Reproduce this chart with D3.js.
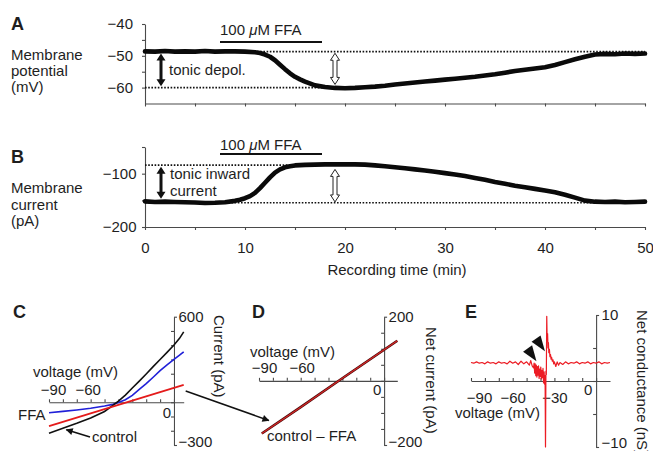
<!DOCTYPE html>
<html>
<head>
<meta charset="utf-8">
<script src="https://cdn.jsdelivr.net/npm/d3@7/dist/d3.min.js"></script>
<style>
html,body{margin:0;padding:0;background:#fff;}
svg{display:block;}
</style>
</head>
<body>
<svg id="fig" width="653" height="451"></svg>
<script>
// ---------------- data ----------------
// Panel A: membrane potential (mV) vs recording time (min)
const timeA = [0,1,2,3,4,5,6,7,8,9,10,11,11.5,12,12.5,13,13.5,14,14.5,15,15.5,16,17,18,19,20,21,22,23,24,25,26,27,28,29,30,31,32,33,34,35,36,37,38,39,40,41,42,43,44,45,46,47,48,49,50];
const potentialA = [-48.6,-48.7,-48.5,-48.7,-48.6,-48.7,-48.5,-48.7,-48.6,-48.6,-48.7,-48.9,
  -49.1,-49.6,-50.3,-51.4,-52.8,-54.2,-55.5,-56.6,-57.4,-58.1,
  -59.3,-59.8,-60.1,-60.2,-60.1,-59.9,-59.7,-59.4,-59.0,-58.7,-58.4,-58.1,-57.8,-57.5,-57.2,-56.9,-56.6,-56.2,-55.8,-55.3,-54.8,-54.4,-54.0,-53.6,-52.9,-52.0,-51.1,-50.3,-49.6,-49.4,-49.5,-49.3,-49.4,-49.3];
// Panel B: membrane current (pA) vs recording time (min)
const timeB = [0,1,2,3,4,5,6,7,8,9,9.5,10,10.5,11,11.5,12,12.5,13,13.5,14,14.5,15,16,17,18,19,20,21,22,23,24,25,26,27,28,29,30,31,32,33,34,35,36,37,38,39,40,41,42,43,44,45,46,47,48,49,50];
const currentB = [-152,-153,-152.5,-153,-153.5,-154,-155,-154.5,-153.5,-151,
  -149,-146,-142,-136,-127,-117,-107,-98,-92,-88,-86,-84.5,
  -83.5,-83,-82.5,-82.5,-82.5,-82.5,-83,-84.5,-86,-88,-90,-92,-94,-96.5,-99,-101.5,-104.5,-108,-111.5,-115.5,-119,-122.5,-125.5,-128.5,-131.5,-135,-139.5,-145,-150.5,-152.5,-153,-152.5,-153.5,-153,-152.5];
const timeTicks = [0,10,20,30,40,50];
const timeMinorTicks = [0,5,10,15,20,25,30,35,40,45,50];
const potentialTicks = [-40,-50,-60];
const potentialMinorTicks = [-40,-45,-50,-55,-60];
const currentTicks = [-100,-200];
const currentMinorTicks = [-50,-100,-150,-200];
// reference levels (dotted) and drug application
const potentialLevels = [-48.7, -60.0];
const potentialLevelEnds = [50, 19];
const currentLevels = [-84, -154.5];
const currentLevelEnds = [19, 50];
const ffaWindow = [7.5, 17.7];
const tonicArrowTime = [1.6, 19.0];
const tonicArrowA = [-49.3, -59.6];
const whiteArrowA = [-49.2, -59.0];
const tonicArrowB = [-87, -147];
const whiteArrowB = [-92, -153];

// Panel C: I-V curves
const voltCtrl = [-90,-80,-70,-60,-50,-44,-40,-35,-30,-25,-20,-15,-10,-5,0,4,7];
const currentCtrl = [-218,-183,-148,-110,-65,-22,8,50,100,148,198,250,300,350,401,448,494];
const voltFFA = [-90,-80,-70,-60,-50,-44,-40,-35,-30,-25,-20,-15,-10,-5,0,4,7];
const currentFFA = [-74,-64,-54,-42,-27,-15,-2,18,48,90,130,175,222,262,300,330,354];
const voltDiffC = [-90, 7];
const currentDiffC = [-167, 121];
const voltTicksC = [-90,-60];
const voltMinorTicks = [-90,-80,-70,-60,-50,-40,-30,-20,-10,0];

// Panel D: net current (control - FFA)
const voltNet = [-88, -60, -30, 9.5];
const currentNet = [-164, -82, 8, 125];

// Panel E: net conductance
const voltG = [-90,-88,-86,-84,-82,-80,-78,-76,-74,-72,-70,-68,-66,-64,-62,-60,-58,-56,-54,-52,-50,-48,-47,-46,
  -45,-44.6,-44.2,-43.8,-43.4,-43,-42.6,-42.2,-41.8,-41.4,-41,-40.6,-40.2,-39.8,-39.4,-39,-38.6,-38.2,-37.8,-37.4,-37,-36.7,-36.4,-36.1,-35.8,
  -35.5,-35.2,-34.9,-34.6,-34.3,-34,-33.6,-33.2,-32.8,-32.4,-32,-31.5,-31,-30.5,-30,-29,-28,-27,-26,-24,-22,-20,
  -18,-16,-14,-12,-10,-8,-6,-4,-2,0,2,4,6,8,10];
const conductG = [2.8,2.7,2.9,2.7,2.8,2.6,2.9,2.7,2.8,2.6,2.9,2.7,2.8,2.6,3.0,2.7,2.9,2.5,3.0,2.6,2.9,2.4,3.1,2.3,
  2.0,2.7,1.2,2.6,0.8,2.4,0.6,2.2,0.9,2.3,0.4,1.8,0.7,2.1,0.3,1.6,0.5,1.9,-0.3,1.4,-0.5,0.8,-10.0,1.5,1.0,
  9.8,6.0,7.2,5.0,5.8,4.3,4.8,3.7,4.0,3.3,3.6,3.0,3.2,2.6,2.9,2.2,2.9,2.4,2.8,2.5,2.9,2.6,
  2.8,2.7,2.9,2.6,2.8,2.7,2.9,2.6,2.8,2.7,2.9,2.6,2.8,2.7,2.8];
const voltTicksE = [-90,-60,-30];
const wedgeVolt = [-42.9, -36.8];
const wedgeCond = [3.0, 4.5];

// ---------------- drawing ----------------
const FONT = "'Liberation Sans', Arial, Helvetica, sans-serif";
const FS = 15;
const INK = "#1e1e1e";
const AX = "#4a4a4a";
const fmt = d3.format("d");
const svg = d3.select("#fig");

function styleAxis(g){
  g.attr("font-family", null).attr("font-size", null);
  g.selectAll("path,line").attr("stroke", AX).attr("stroke-width", 1.1);
  g.selectAll("text").attr("font-family", FONT).attr("font-size", FS).attr("fill", INK);
  return g;
}
function label(x, y, txt, opts = {}){
  const t = svg.append("text").attr("x", x).attr("y", y).text(txt)
    .attr("font-family", FONT).attr("font-size", opts.size || FS).attr("fill", INK)
    .attr("font-weight", opts.bold ? "bold" : null)
    .attr("text-anchor", opts.anchor || "start");
  return t;
}
function vlabel(x, y, txt){
  svg.append("text").attr("transform", `translate(${x},${y}) rotate(90)`).text(txt)
    .attr("font-family", FONT).attr("font-size", FS).attr("fill", INK);
}
function dblArrow(x, ya, yb, shaft, headW, headL){
  const s = shaft/2, h = headW/2;
  return `M${x},${ya} L${x+h},${ya+headL} L${x+s},${ya+headL} L${x+s},${yb-headL} L${x+h},${yb-headL} L${x},${yb} L${x-h},${yb-headL} L${x-s},${yb-headL} L${x-s},${ya+headL} L${x-h},${ya+headL} Z`;
}
svg.append("defs").append("marker").attr("id","ah").attr("viewBox","0 0 10 10")
  .attr("refX",9).attr("refY",5).attr("markerWidth",9).attr("markerHeight",7)
  .attr("markerUnits","userSpaceOnUse").attr("orient","auto")
  .append("path").attr("d","M0,0 L10,5 L0,10 Z").attr("fill","#111");

// ---- panels A & B ----
const xT = d3.scaleLinear().domain([0,50]).range([145,645]);
const yA = d3.scaleLinear().domain([-65,-40]).range([103.5,24]);
const yB = d3.scaleLinear().domain([-200,-50]).range([227,147]);

// axes A
styleAxis(svg.append("g").attr("transform",`translate(0,${yA(-65)})`)
  .call(d3.axisBottom(xT).tickValues(timeMinorTicks).tickSize(3).tickSizeOuter(0).tickFormat("")));
styleAxis(svg.append("g").attr("transform",`translate(${xT(0)},0)`)
  .call(d3.axisLeft(yA).tickValues(potentialMinorTicks).tickSize(3).tickSizeOuter(0).tickPadding(9)
    .tickFormat(d => potentialTicks.includes(d) ? fmt(d) : "")));
// axes B
styleAxis(svg.append("g").attr("transform",`translate(0,${yB(-200)})`)
  .call(d3.axisBottom(xT).tickValues(timeMinorTicks).tickSize(3).tickSizeOuter(0).tickPadding(12)
    .tickFormat(d => timeTicks.includes(d) ? fmt(d) : "")));
styleAxis(svg.append("g").attr("transform",`translate(${xT(0)},0)`)
  .call(d3.axisLeft(yB).tickValues(currentMinorTicks).tickSize(3).tickSizeOuter(0).tickPadding(5.5)
    .tickFormat(d => currentTicks.includes(d) ? fmt(d) : "")));

// dotted reference lines
potentialLevels.forEach((v,i) => svg.append("line").attr("x1",xT(0)).attr("x2",xT(potentialLevelEnds[i]))
  .attr("y1",yA(v)).attr("y2",yA(v)).attr("stroke","#111").attr("stroke-width",1.7).attr("stroke-dasharray","1.6,1.6"));
currentLevels.forEach((v,i) => svg.append("line").attr("x1",xT(0)).attr("x2",xT(currentLevelEnds[i]))
  .attr("y1",yB(v)).attr("y2",yB(v)).attr("stroke","#111").attr("stroke-width",1.7).attr("stroke-dasharray","1.6,1.6"));

// traces
const lineA = d3.line().x((d,i)=>xT(timeA[i])).y(d=>yA(d));
svg.append("path").attr("d", lineA(potentialA)).attr("fill","none").attr("stroke","#0a0a0a")
  .attr("stroke-width",4.6).attr("stroke-linejoin","round").attr("stroke-linecap","round");
const lineB = d3.line().x((d,i)=>xT(timeB[i])).y(d=>yB(d));
svg.append("path").attr("d", lineB(currentB)).attr("fill","none").attr("stroke","#0a0a0a")
  .attr("stroke-width",4.6).attr("stroke-linejoin","round").attr("stroke-linecap","round");

// FFA bars
svg.append("line").attr("x1",xT(ffaWindow[0])).attr("x2",xT(ffaWindow[1])).attr("y1",42).attr("y2",42).attr("stroke","#111").attr("stroke-width",2);
svg.append("line").attr("x1",xT(ffaWindow[0])).attr("x2",xT(ffaWindow[1])).attr("y1",154).attr("y2",154).attr("stroke","#111").attr("stroke-width",2);
function ffaLabel(y){
  const t = label(xT(ffaWindow[0]), y, "100 ");
  t.append("tspan").attr("font-style","italic").text("\u03bc");
  t.append("tspan").text("M FFA");
}
ffaLabel(35); ffaLabel(150);

// arrows
svg.append("path").attr("d", dblArrow(xT(tonicArrowTime[0]), yA(tonicArrowA[0]), yA(tonicArrowA[1]), 3, 9, 7)).attr("fill","#111");
svg.append("path").attr("d", dblArrow(xT(tonicArrowTime[1]), yA(whiteArrowA[0]), yA(whiteArrowA[1]), 4, 9, 7)).attr("fill","#fff").attr("stroke","#222").attr("stroke-width",1);
svg.append("path").attr("d", dblArrow(xT(tonicArrowTime[0]), yB(tonicArrowB[0]), yB(tonicArrowB[1]), 3, 9, 7)).attr("fill","#111");
svg.append("path").attr("d", dblArrow(xT(tonicArrowTime[1]), yB(whiteArrowB[0]), yB(whiteArrowB[1]), 4, 9, 7)).attr("fill","#fff").attr("stroke","#222").attr("stroke-width",1);

// text A/B
label(11, 30, "A", {bold:true, size:18});
label(11, 60, "Membrane"); label(11, 76, "potential"); label(11, 92, "(mV)");
label(169, 75, "tonic depol.");
label(11, 163, "B", {bold:true, size:18});
label(11, 193, "Membrane"); label(11, 210, "current"); label(11, 226, "(pA)");
label(170, 179, "tonic inward"); label(170, 196, "current");
label(397, 275, "Recording time (min)", {anchor:"middle"});

// ---- panel C ----
const xC = d3.scaleLinear().domain([-90,7]).range([49,183.7]);
const yC = d3.scaleLinear().domain([-300,600]).range([445,316.7]);
styleAxis(svg.append("g").attr("transform",`translate(0,${yC(0)})`)
  .call(d3.axisTop(xC).tickValues(voltMinorTicks).tickSize(3).tickSizeOuter(0).tickPadding(4)
    .tickFormat(d => voltTicksC.includes(d) ? fmt(d) : "")))
  .selectAll("text").attr("dx", d => d === -90 ? 4 : -3);
styleAxis(svg.append("g").attr("transform",`translate(${xC(0)},0)`)
  .call(d3.axisLeft(yC).tickValues(d3.range(-200,501,100)).tickSize(3).tickSizeOuter(0).tickFormat("")));
styleAxis(svg.append("g").attr("transform",`translate(${xC(0)},0)`)
  .call(d3.axisRight(yC).tickValues([600,-300]).tickSize(3).tickSizeOuter(0).tickPadding(1.5).tickFormat(fmt)))
  .call(g => g.select(".domain").remove())
  .selectAll("text").attr("dy", d => d < 0 ? "0.12em" : "0.32em");
const lineCc = d3.line().x((d,i)=>xC(voltCtrl[i])).y(d=>yC(d));
const lineCf = d3.line().x((d,i)=>xC(voltFFA[i])).y(d=>yC(d));
const lineCd = d3.line().x((d,i)=>xC(voltDiffC[i])).y(d=>yC(d));
svg.append("path").attr("d", lineCf(currentFFA)).attr("fill","none").attr("stroke","#2020d8").attr("stroke-width",1.6);
svg.append("path").attr("d", lineCc(currentCtrl)).attr("fill","none").attr("stroke","#111").attr("stroke-width",1.6);
svg.append("path").attr("d", lineCd(currentDiffC)).attr("fill","none").attr("stroke","#e41b1b").attr("stroke-width",1.8);
label(13, 318, "C", {bold:true, size:18});
label(33, 377, "voltage (mV)");
label(18, 420, "FFA");
label(92, 442, "control");
label(xC(0)-7, 418, "0", {anchor:"middle"});
vlabel(214, 315, "Current (pA)");
// control arrow
svg.append("line").attr("x1",90).attr("y1",437).attr("x2",xC(-77.5)).attr("y2",yC(-172)+3)
  .attr("stroke","#111").attr("stroke-width",1.5).attr("marker-end","url(#ah)");

// ---- panel D ----
const xD = d3.scaleLinear().domain([-90,9.5]).range([259,397.3]);
const yD = d3.scaleLinear().domain([-200,200]).range([445,316.7]);
styleAxis(svg.append("g").attr("transform",`translate(0,${yD(0)})`)
  .call(d3.axisTop(xD).tickValues(voltMinorTicks).tickSize(3).tickSizeOuter(0).tickPadding(5)
    .tickFormat(d => voltTicksC.includes(d) ? fmt(d) : "")))
  .selectAll("text").attr("dx", d => d === -90 ? 5 : 1);
styleAxis(svg.append("g").attr("transform",`translate(${xD(0)},0)`)
  .call(d3.axisLeft(yD).tickValues(d3.range(-150,151,50)).tickSize(3).tickSizeOuter(0).tickFormat("")));
styleAxis(svg.append("g").attr("transform",`translate(${xD(0)},0)`)
  .call(d3.axisRight(yD).tickValues([200,-200]).tickSize(3).tickSizeOuter(0).tickPadding(1.5).tickFormat(fmt)))
  .call(g => g.select(".domain").remove())
  .selectAll("text").attr("dy", d => d < 0 ? "0.12em" : "0.32em");
const lineD = d3.line().x((d,i)=>xD(voltNet[i])).y(d=>yD(d));
svg.append("path").attr("d", lineD(currentNet)).attr("fill","none").attr("stroke","#4a0c0c").attr("stroke-width",2.6);
svg.append("path").attr("d", lineD(currentNet)).attr("fill","none").attr("stroke","#d42626").attr("stroke-width",1.2);
label(252, 318, "D", {bold:true, size:18});
label(250, 357, "voltage (mV)");
label(xD(0)-7, 395, "0", {anchor:"middle"});
label(267, 441, "control \u2013 FFA");
vlabel(426, 327, "Net current (pA)");
// arrow C -> D
svg.append("line").attr("x1", xC(7)+2).attr("y1", yC(121)+6).attr("x2", xD(-88)+7).attr("y2", yD(-164)-13)
  .attr("stroke","#111").attr("stroke-width",1.5).attr("marker-end","url(#ah)");

// ---- panel E ----
const xE = d3.scaleLinear().domain([-90,10]).range([471,610]);
const yE = d3.scaleLinear().domain([-10,10]).range([447,315]);
styleAxis(svg.append("g").attr("transform",`translate(0,${yE(0)})`)
  .call(d3.axisTop(xE).tickValues(voltMinorTicks).tickSize(3).tickSizeOuter(0).tickFormat("")));
styleAxis(svg.append("g").attr("transform",`translate(0,${yE(0)})`)
  .call(d3.axisBottom(xE).tickValues(voltTicksE).tickSize(0).tickPadding(11).tickFormat(fmt)))
  .call(g => g.select(".domain").remove())
  .selectAll("text").attr("dx", d => d === -90 ? 8 : 0);
styleAxis(svg.append("g").attr("transform",`translate(${xE(0)},0)`)
  .call(d3.axisLeft(yE).tickValues([-5,0,5]).tickSize(3).tickSizeOuter(0).tickFormat("")));
styleAxis(svg.append("g").attr("transform",`translate(${xE(0)},0)`)
  .call(d3.axisRight(yE).tickValues([10,-10]).tickSize(3).tickSizeOuter(0).tickPadding(2.5).tickFormat(fmt)))
  .call(g => g.select(".domain").remove())
  .selectAll("text").attr("dy", d => d < 0 ? "0.05em" : "0.32em");
const lineE = d3.line().x((d,i)=>xE(voltG[i])).y(d=>yE(d));
svg.append("path").attr("d", lineE(conductG)).attr("fill","none").attr("stroke","#ec1c24").attr("stroke-width",1.2).attr("stroke-linejoin","round");
// wedge arrowheads
wedgeVolt.forEach((v,i) => {
  const tx = xE(v), ty = yE(wedgeCond[i]);
  const th = 55*Math.PI/180, L = 15.5, w = 5.5;
  const bx = tx - L*Math.cos(th), by = ty - L*Math.sin(th);
  const px = -Math.sin(th)*w, py = Math.cos(th)*w;
  svg.append("path").attr("d", `M${tx},${ty} L${bx+px},${by+py} L${bx-px},${by-py} Z`).attr("fill","#111");
});
label(465, 318, "E", {bold:true, size:18});
label(455, 418, "voltage (mV)");
label(xE(0)-8, 395, "0", {anchor:"middle"});
vlabel(637, 310, "Net conductance (nS)");
</script>
</body>
</html>
